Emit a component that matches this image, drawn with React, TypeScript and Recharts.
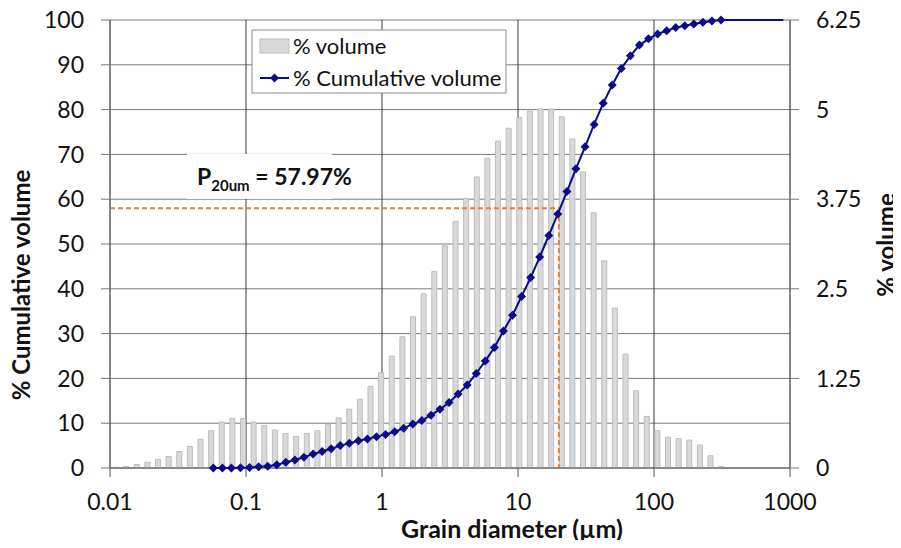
import React from "react"
import { ComposedChart, Bar, Scatter, XAxis, YAxis, CartesianGrid, ReferenceLine } from "recharts"

// % volume per size class (bars, right axis)
const volume = [
  0.01, 0.02, 0.05, 0.08, 0.12, 0.16, 0.23, 0.3, 0.4, 0.52,
  0.64, 0.69, 0.69, 0.64, 0.59, 0.53, 0.48, 0.44, 0.48, 0.52,
  0.61, 0.7, 0.82, 0.96, 1.14, 1.33, 1.56, 1.83, 2.11, 2.43,
  2.74, 3.1, 3.44, 3.76, 4.06, 4.32, 4.56, 4.74, 4.89, 4.98,
  5.01, 5.01, 4.9, 4.59, 4.13, 3.56, 2.89, 2.23, 1.59, 1.08,
  0.72, 0.52, 0.43, 0.41, 0.39, 0.32, 0.17, 0.02, 0, 0,
  0, 0, 0, 0,
]

// grain diameter (µm) and % cumulative volume (line, left axis)
const sizes = [
  0.0575, 0.0671, 0.0781, 0.0911, 0.1062, 0.1239, 0.1444, 0.1684, 0.1963, 0.2289,
  0.2668, 0.3111, 0.3627, 0.4229, 0.4931, 0.5749, 0.6703, 0.7815, 0.9113, 1.062,
  1.239, 1.444, 1.684, 1.963, 2.289, 2.668, 3.111, 3.627, 4.229, 4.931,
  5.749, 6.703, 7.815, 9.113, 10.62, 12.39, 14.44, 16.84, 19.63, 22.89,
  26.68, 31.11, 36.27, 42.29, 49.31, 57.49, 67.03, 78.15, 91.13, 106.2,
  123.9, 144.4, 168.4, 196.3, 228.9, 266.8, 311.1,
]
const cumulative = [
  0, 0, 0, 0.05, 0.1, 0.3, 0.4, 0.7, 1.3, 1.8,
  2.4, 3.1, 3.7, 4.3, 5.0, 5.5, 6.1, 6.5, 7.0, 7.5,
  8.1, 8.9, 9.8, 10.6, 11.8, 13.1, 14.6, 16.5, 18.5, 21.1,
  23.9, 26.9, 30.6, 34.1, 38.3, 42.5, 47.1, 51.9, 56.7, 61.7,
  66.8, 71.7, 76.7, 81.4, 85.5, 89.2, 92.0, 94.4, 95.8, 96.9,
  97.6, 98.3, 98.7, 99.1, 99.5, 99.8, 100,
]
// flat tail of the cumulative curve, drawn without markers
const tailSizes = [311.1, 893]
const tailCumulative = [100, 100]

const decadeTicks = [0.01, 0.1, 1, 10, 100, 1000]
const minorTicks = [
  0.02, 0.03, 0.04, 0.05, 0.06, 0.07, 0.08, 0.09,
  0.2, 0.3, 0.4, 0.5, 0.6, 0.7, 0.8, 0.9,
  2, 3, 4, 5, 6, 7, 8, 9,
  20, 30, 40, 50, 60, 70, 80, 90,
  200, 300, 400, 500, 600, 700, 800, 900,
]
const cumTicks = [0, 10, 20, 30, 40, 50, 60, 70, 80, 90, 100]
const volTicks = [0, 1.25, 2.5, 3.75, 5, 6.25]

const p20Size = 20
const p20Value = 57.97

const barData = volume.map((v, i) => ({ bin: i, vol: v }))
const cumData = sizes.map((d, i) => ({ d, cum: cumulative[i] }))
const tailData = tailSizes.map((d, i) => ({ d, cum: tailCumulative[i] }))

const NAVY = "#0b0b8a"
const FONT = "Lato, 'Open Sans', sans-serif"
const tickStyle = { fontSize: 23, fill: "#111", fontFamily: FONT }

const Diamond = (props: any) => {
  const { cx, cy } = props
  if (cx == null || cy == null) return <g />
  const r = 4.5
  return <polygon points={`${cx},${cy - r} ${cx + r},${cy} ${cx},${cy + r} ${cx - r},${cy}`} fill={NAVY} />
}

const NoMarker = () => <g />

export default function App() {
  return (
    <div style={{ position: "relative", margin: -8, width: 901, height: 548, background: "#fff" }}>
      <ComposedChart width={901} height={548} data={barData} margin={{ top: 20, right: 0, left: 0, bottom: 0 }}>
        <XAxis xAxisId="bins" dataKey="bin" type="category" hide height={0} />
        <XAxis
          xAxisId="minor"
          dataKey="d"
          type="number"
          scale="log"
          domain={[0.01, 1000]}
          allowDataOverflow
          ticks={minorTicks}
          height={0}
          tickSize={6}
          tick={false}
          axisLine={false}
          tickLine={{ stroke: "#707070" }}
        />
        <XAxis
          xAxisId="log"
          dataKey="d"
          type="number"
          scale="log"
          domain={[0.01, 1000]}
          allowDataOverflow
          ticks={decadeTicks}
          height={80}
          tickSize={9}
          tickMargin={17}
          axisLine={{ stroke: "#555" }}
          tickLine={{ stroke: "#555" }}
          tick={tickStyle}
          tickFormatter={(v: number) => String(v)}
        />
        <YAxis
          yAxisId="cum"
          dataKey="cum"
          domain={[0, 100]}
          ticks={cumTicks}
          width={110}
          tickSize={9}
          tickMargin={17}
          axisLine={{ stroke: "#777" }}
          tickLine={{ stroke: "#777" }}
          tick={tickStyle}
        />
        <YAxis
          yAxisId="vol"
          dataKey="vol"
          orientation="right"
          domain={[0, 6.25]}
          ticks={volTicks}
          width={111}
          tickSize={9}
          tickMargin={17}
          axisLine={{ stroke: "#777" }}
          tickLine={{ stroke: "#777" }}
          tick={tickStyle}
        />
        <CartesianGrid xAxisId="minor" yAxisId="cum" horizontal={false} stroke="#cfcfcf" strokeDasharray="8 4" />
        <CartesianGrid xAxisId="log" yAxisId="cum" vertical={false} stroke="#7a7a7a" />
        <CartesianGrid xAxisId="log" yAxisId="cum" horizontal={false} stroke="#3a3a3a" />
        <Bar
          xAxisId="bins"
          yAxisId="vol"
          dataKey="vol"
          barSize={5}
          fill="#d9d9d9"
          stroke="#bdbdbd"
          strokeWidth={1}
          isAnimationActive={false}
        />
        <ReferenceLine
          xAxisId="log"
          yAxisId="cum"
          segment={[{ x: 0.01, y: p20Value }, { x: p20Size, y: p20Value }]}
          stroke="#ed7d31"
          strokeWidth={2}
          strokeDasharray="5 3"
        />
        <ReferenceLine
          xAxisId="log"
          yAxisId="cum"
          segment={[{ x: p20Size, y: p20Value }, { x: p20Size, y: 0 }]}
          stroke="#ed7d31"
          strokeWidth={2}
          strokeDasharray="5 3"
        />
        <Scatter
          xAxisId="log"
          yAxisId="cum"
          data={tailData}
          fill={NAVY}
          line={{ stroke: NAVY, strokeWidth: 2 }}
          shape={NoMarker}
          isAnimationActive={false}
        />
        <Scatter
          xAxisId="log"
          yAxisId="cum"
          data={cumData}
          fill={NAVY}
          line={{ stroke: NAVY, strokeWidth: 2 }}
          shape={Diamond}
          isAnimationActive={false}
        />
      </ComposedChart>

      <svg width={901} height={548} style={{ position: "absolute", left: 0, top: 0, pointerEvents: "none" }}>
        {/* legend */}
        <rect x={252} y={30} width={254} height={63} fill="#fff" stroke="#8c8c8c" />
        <rect x={260} y={39} width={29} height={14} fill="#d9d9d9" stroke="#bdbdbd" />
        <text x={293} y={54} fontSize={22} fontFamily={FONT} fill="#111">% volume</text>
        <line x1={260} x2={289} y1={78} y2={78} stroke={NAVY} strokeWidth={2} />
        <polygon points="274.5,73.5 279,78 274.5,82.5 270,78" fill={NAVY} />
        <text x={293} y={86} fontSize={22} fontFamily={FONT} fill="#111">% Cumulative volume</text>

        {/* P20 annotation */}
        <rect x={187} y={154} width={145} height={45} fill="#fff" />
        <text x={197} y={185} fontSize={23} fontWeight="bold" fontFamily={FONT} fill="#111">
          P<tspan fontSize={15} dy={6}>20um</tspan>
          <tspan fontSize={23} dy={-6}> = 57.97%</tspan>
        </text>

        {/* axis titles */}
        <text
          x={30}
          y={285}
          transform="rotate(-90 30 285)"
          textAnchor="middle"
          fontSize={24}
          fontWeight="bold"
          fontFamily={FONT}
          fill="#111"
        >
          % Cumulative volume
        </text>
        <text
          x={901}
          y={245}
          transform="rotate(-90 901 245)"
          textAnchor="middle"
          dy={-6}
          fontSize={24}
          fontWeight="bold"
          fontFamily={FONT}
          fill="#111"
        >
          % volume
        </text>
        <text x={401} y={538} fontSize={25} fontWeight="bold" fontFamily={FONT} fill="#111">
          Grain diameter (µm)
        </text>
      </svg>
    </div>
  )
}
